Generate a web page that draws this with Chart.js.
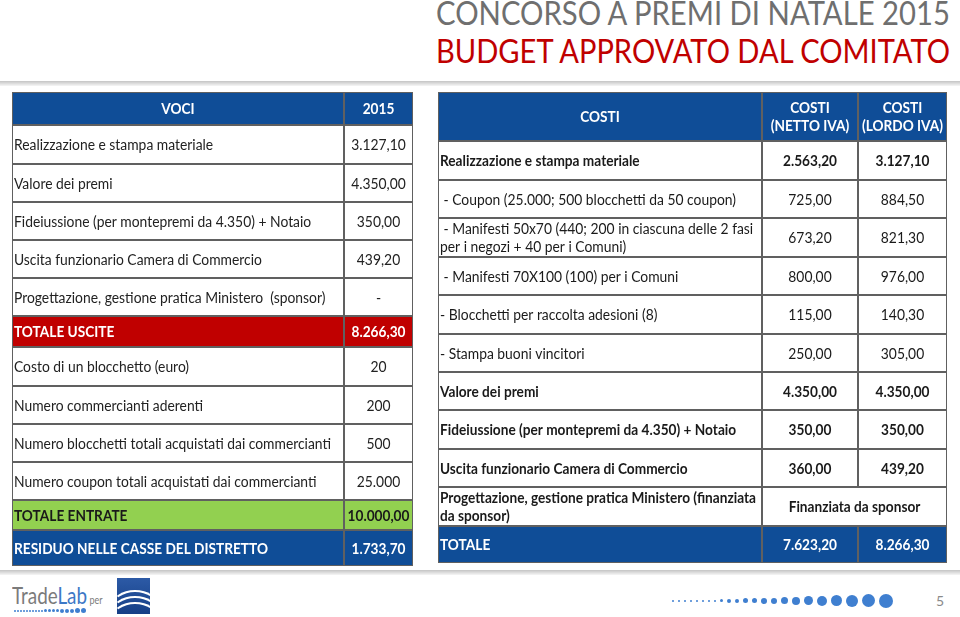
<!DOCTYPE html>
<html lang="it">
<head>
<meta charset="utf-8">
<title>Concorso a premi di Natale 2015 - Budget approvato dal comitato</title>
<script src="https://cdn.jsdelivr.net/npm/chart.js@4.4.1/dist/chart.umd.min.js"></script>
<style>
  html, body { margin:0; padding:0; background:#fff; }
  #slide { position:relative; width:960px; height:617px; overflow:hidden; font-family: Lato, "Open Sans", sans-serif; background:#fff; }
  .title { position:absolute; left:436px; white-space:nowrap; font-size:32px; line-height:32px; transform-origin:0 0; }
  #t1 { top:-3px; color:#6f6f6f; }
  #t2 { top:35px; color:#c00000; }
  .rule { position:absolute; left:0; width:960px; height:5px; background:linear-gradient(#c4c4c4, #f6f6f6); }
  #rule1 { top:81px; }
  #rule2 { top:570px; }
  #leftWrap { position:absolute; left:10px; top:90px; width:406px; height:480px; }
  #rightWrap { position:absolute; left:436px; top:90px; width:514px; height:476px; }
  #logo { position:absolute; left:12px; top:584px; white-space:nowrap; font-size:23px; line-height:23px; transform-origin:0 0; transform:scaleX(0.82); }
  #logo .trade { color:#7b7b7b; }
  #logo .lab { color:#3d78c6; }
  #logo .per { color:#7b7b7b; font-size:11px; margin-left:3px; }
  #logoDots { position:absolute; left:14px; top:608px; display:flex; align-items:center; gap:1px; }
  #logoDots span, #pageDots span { display:block; border-radius:50%; background:#3f7fd0; }
  #emblem { position:absolute; left:117px; top:578px; width:33px; height:36px; background:linear-gradient(#2c5aa6,#163f86); overflow:hidden; }
  #emblem i { position:absolute; border:2px solid #fff; border-radius:50%; border-bottom-color:transparent; border-left-color:transparent; border-right-color:transparent; }
  #pageDots { position:absolute; left:672px; top:593px; height:15px; display:flex; align-items:center; gap:4px; }
  #pageNum { position:absolute; left:936px; top:592px; font-size:14px; color:#8a8a8a; }
</style>
</head>
<body>
<div id="slide">
  <div id="t1" class="title">CONCORSO A PREMI DI NATALE 2015</div>
  <div id="t2" class="title">BUDGET APPROVATO DAL COMITATO</div>
  <div id="rule1" class="rule"></div>
  <div id="leftWrap"><canvas id="leftChart"></canvas></div>
  <div id="rightWrap"><canvas id="rightChart"></canvas></div>
  <div id="rule2" class="rule"></div>
  <div id="logo"><span class="trade">Trade</span><span class="lab">Lab</span><span class="per">per</span></div>
  <div id="logoDots"></div>
  <div id="emblem"><i style="left:-6px;top:12px;width:44px;height:30px"></i><i style="left:-6px;top:18px;width:44px;height:30px"></i><i style="left:-6px;top:24px;width:44px;height:30px"></i></div>
  <div id="pageDots"></div>
  <div id="pageNum">5</div>
</div>
<script>
// ---------------- DATA ----------------
const leftHeader = ['VOCI', '2015'];
const leftItems = [
  'Realizzazione e stampa materiale',
  'Valore dei premi',
  'Fideiussione (per montepremi da 4.350) + Notaio',
  'Uscita funzionario Camera di Commercio',
  'Progettazione, gestione pratica Ministero  (sponsor)',
  'TOTALE USCITE',
  'Costo di un blocchetto (euro)',
  'Numero commercianti aderenti',
  'Numero blocchetti totali acquistati dai commercianti',
  'Numero coupon totali acquistati dai commercianti',
  'TOTALE ENTRATE',
  'RESIDUO NELLE CASSE DEL DISTRETTO'
];
const leftValues2015 = ['3.127,10', '4.350,00', '350,00', '439,20', '-', '8.266,30', '20', '200', '500', '25.000', '10.000,00', '1.733,70'];

const rightHeader = ['COSTI', 'COSTI\n(NETTO IVA)', 'COSTI\n(LORDO IVA)'];
const rightItems = [
  'Realizzazione e stampa materiale',
  ' - Coupon (25.000; 500 blocchetti da 50 coupon)',
  ' - Manifesti 50x70 (440; 200 in ciascuna delle 2 fasi\nper i negozi + 40 per i Comuni)',
  ' - Manifesti 70X100 (100) per i Comuni',
  '- Blocchetti per raccolta adesioni (8)',
  '- Stampa buoni vincitori',
  'Valore dei premi',
  'Fideiussione (per montepremi da 4.350) + Notaio',
  'Uscita funzionario Camera di Commercio',
  'Progettazione, gestione pratica Ministero (finanziata\nda sponsor)',
  'TOTALE'
];
const rightNettoIva = ['2.563,20', '725,00', '673,20', '800,00', '115,00', '250,00', '4.350,00', '350,00', '360,00', 'Finanziata da sponsor', '7.623,20'];
const rightLordoIva = ['3.127,10', '884,50', '821,30', '976,00', '140,30', '305,00', '4.350,00', '350,00', '439,20', null, '8.266,30'];

// ---------------- LAYOUT (page pixels) ----------------
const leftColEdges = [12, 344, 413];
const leftRowEdges = [92, 125, 164, 202, 240, 278, 316, 347, 386, 424, 462, 500, 530, 566];
const rightColEdges = [438, 762, 858, 947];
const rightRowEdges = [92, 141, 180, 218, 257, 295, 334, 372, 410, 449, 487, 526, 563];

// ---------------- STYLES ----------------
const BLUE = '#0f4d97';
const FONT = 'Lato, "Open Sans", sans-serif';
const FONT_SIZE = 14.5;
const LINE_H = 18;
const GRID = '#606060';
const leftSpecial = {
  'TOTALE USCITE': { bg: '#c00000', fg: '#ffffff', bold: true },
  'TOTALE ENTRATE': { bg: '#92d050', fg: '#1a1a1a', bold: true },
  'RESIDUO NELLE CASSE DEL DISTRETTO': { bg: BLUE, fg: '#ffffff', bold: true }
};
const headerStyle = { bg: BLUE, fg: '#ffffff', bold: true, header: true };

// horizontal compression so the Lato text matches the original narrow face
const mctx = document.createElement('canvas').getContext('2d');
function widthOf(str, bold) { mctx.font = (bold ? 'bold ' : '') + FONT_SIZE + 'px ' + FONT; return mctx.measureText(str).width; }
const SX_REG = 317 / widthOf('Numero blocchetti totali acquistati dai commercianti', false);
const SX_BOLD = 316 / widthOf('Progettazione, gestione pratica Ministero (finanziata', true);

function buildDatasets(rows, styles, colEdges, rowEdges) {
  return rows.map((cells, r) => {
    const st = styles[r];
    const data = [], texts = [], aligns = [];
    cells.forEach((t, c) => {
      if (t === null) return;
      let end = c + 1;
      while (end < cells.length && cells[end] === null) end++;
      data.push({ x: [colEdges[c], colEdges[end]], y: (rowEdges[r] + rowEdges[r + 1]) / 2 });
      texts.push(t);
      aligns.push(c === 0 && !st.header ? 'left' : 'center');
    });
    return {
      data,
      grouped: false,
      barThickness: rowEdges[r + 1] - rowEdges[r],
      backgroundColor: st.bg,
      borderColor: GRID,
      borderWidth: 1,
      borderSkipped: false,
      inflateAmount: 0,
      cellText: texts,
      cellAlign: aligns,
      cellBold: st.bold,
      cellColor: st.fg
    };
  });
}

const cellTextPlugin = {
  id: 'cellText',
  afterDatasetsDraw(chart) {
    const ctx = chart.ctx;
    chart.data.datasets.forEach((ds, i) => {
      const meta = chart.getDatasetMeta(i);
      meta.data.forEach((bar, j) => {
        const p = bar.getProps(['x', 'y', 'base'], true);
        const left = Math.min(p.x, p.base), right = Math.max(p.x, p.base);
        const lines = ds.cellText[j].split('\n');
        const sx = ds.cellBold ? SX_BOLD : SX_REG;
        ctx.save();
        ctx.font = (ds.cellBold ? 'bold ' : '') + FONT_SIZE + 'px ' + FONT;
        ctx.fillStyle = ds.cellColor;
        ctx.textBaseline = 'middle';
        ctx.textAlign = 'left';
        lines.forEach((ln, k) => {
          const ly = p.y + (k - (lines.length - 1) / 2) * LINE_H + 1;
          const w = ctx.measureText(ln).width * sx;
          const lx = ds.cellAlign[j] === 'left' ? left + 2 : (left + right) / 2 - w / 2;
          ctx.save();
          ctx.translate(lx, ly);
          ctx.scale(sx, 1);
          ctx.fillText(ln, 0, 0);
          ctx.restore();
        });
        ctx.restore();
      });
    });
  }
};

function makeTable(canvasId, datasets, xMin, xMax, yMin, yMax) {
  return new Chart(document.getElementById(canvasId), {
    type: 'bar',
    data: { datasets },
    options: {
      indexAxis: 'y',
      responsive: true,
      maintainAspectRatio: false,
      animation: false,
      events: [],
      layout: { padding: 0 },
      plugins: { legend: { display: false }, tooltip: { enabled: false }, title: { display: false } },
      scales: {
        x: { type: 'linear', min: xMin, max: xMax, offset: false, display: false },
        y: { type: 'linear', min: yMin, max: yMax, offset: false, reverse: true, display: false }
      }
    },
    plugins: [cellTextPlugin]
  });
}

// left table
const leftRows = [leftHeader].concat(leftItems.map((it, i) => [it, leftValues2015[i]]));
const leftStyles = leftRows.map((row, r) => r === 0 ? headerStyle : (leftSpecial[row[0]] || { bg: '#ffffff', fg: '#222222', bold: false }));
makeTable('leftChart', buildDatasets(leftRows, leftStyles, leftColEdges, leftRowEdges), 10, 416, 90, 570);

// right table
const rightRows = [rightHeader].concat(rightItems.map((it, i) => [it, rightNettoIva[i], rightLordoIva[i]]));
const rightStyles = rightRows.map((row, r) => {
  if (r === 0) return headerStyle;
  if (row[0] === 'TOTALE') return { bg: BLUE, fg: '#ffffff', bold: true };
  return { bg: '#ffffff', fg: '#1a1a1a', bold: !row[0].trim().startsWith('-') };
});
makeTable('rightChart', buildDatasets(rightRows, rightStyles, rightColEdges, rightRowEdges), 436, 950, 90, 566);

// titles: fit to the original width
['t1', 't2'].forEach(id => {
  const el = document.getElementById(id);
  const w = el.getBoundingClientRect().width;
  el.style.transform = 'scaleX(' + (514 / w) + ')';
});

// decorative dots
const logoDotSizes = [2, 2, 2, 2, 2, 2, 2, 2, 2, 2, 3, 3, 3, 3, 4, 4, 4, 5, 5];
const ld = document.getElementById('logoDots');
logoDotSizes.forEach(s => { const d = document.createElement('span'); d.style.width = s + 'px'; d.style.height = s + 'px'; ld.appendChild(d); });
const pageDotSizes = [2, 2, 2, 2, 2, 2, 2, 2, 3, 4, 4, 5, 5, 6, 6, 7, 8, 9, 10, 11, 12, 13, 14];
const pd = document.getElementById('pageDots');
pageDotSizes.forEach(s => { const d = document.createElement('span'); d.style.width = s + 'px'; d.style.height = s + 'px'; pd.appendChild(d); });
</script>
</body>
</html>
